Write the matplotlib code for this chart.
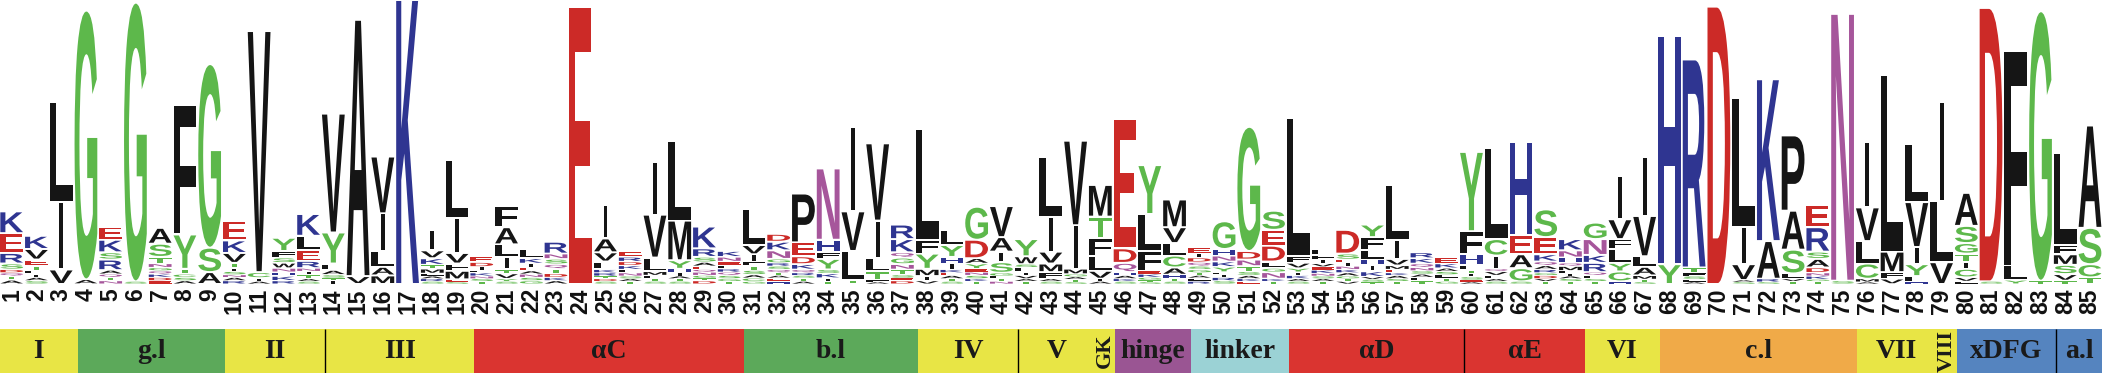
import matplotlib
matplotlib.use('Agg')
import matplotlib.pyplot as plt
from matplotlib.textpath import TextPath
from matplotlib.patches import PathPatch
from matplotlib.font_manager import FontProperties
from matplotlib.transforms import Affine2D

# residues in each column, bottom -> top, and their heights (bits)
letters = [
    "ATQDSREK", "SAILTEVK", "VIL", "AG", "NTQARSKE", "SG", "EDKQGNTSA", "ASCTYF", "ASG", "RANSITVKE",
    "AICV", "RKHNWSFY", "SATINRELK", "ITSAFYV", "VA", "MALIV", "K", "SRALMTKVI", "SEMFVIL", "TSNKLIDE",
    "SYVTILAF", "GSNAEIKL", "AKDTQSNR", "E", "SDTRKLVAI", "TASNLKDRE", "STFMLVI", "STAIHYML", "DTGNQEASRK", "TGSQRLENK",
    "GCASTFIVL", "HEATQSRGNKD", "ATSRQKDEP", "TIKSYFHN", "TLVI", "AFTLIV", "DESTNGQKR", "VIMYFL", "STAEKIHYL", "TKSNEYADG",
    "NTLGSIAV", "TAVILSWY", "SAFMVIL", "STAGMIV", "AIVLFTM", "SKAHQDE", "STGKEFLY", "STHACLVM", "RLATGSQDIE", "SRILYKNHG",
    "EKASTNDG", "TKNGLDES", "SAKIYVFL", "TASNKEVIFL", "VTGAKNIESD", "TSVKIHLFY", "TSAKEMVIL", "TLASNQKR", "GTLSAKE", "AESITLHFY",
    "SAFVQICL", "SGAEH", "TVDGRAQKES", "TSAILMQHNK", "TSLQRKNG", "HCYLFVI", "STMALVI", "YH", "ALSFTR", "D",
    "SAVIL", "SRAK", "TVLSAP", "TGKNDASRE", "SN", "AMCLVI", "VFML", "HFYIVL", "VLI", "LVCITGSA",
    "SD", "YLF", "TG", "TVSMFL", "TCSA",
]
heights = [
    [.06, .06, .05, .05, .09, .16, .30, .33], [.05, .05, .05, .06, .06, .10, .16, .20], [.22, 1.02, 1.52],
    [.07, 4.07], [.05, .05, .05, .06, .16, .11, .19, .20], [.04, 4.22],
    [.05, .05, .05, .05, .05, .06, .10, .20, .24], [.05, .05, .05, .08, .52, 1.96], [.18, .37, 2.78],
    [.05, .05, .04, .05, .05, .08, .15, .19, .30], [.04, .05, .09, 3.65], [.05, .07, .06, .06, .08, .08, .10, .20],
    [.04, .04, .06, .05, .05, .11, .16, .22, .33], [.05, .04, .05, .07, .10, .47, 1.80], [.12, 3.88],
    [.13, .13, .24, .57, .86], [4.30], [.04, .04, .04, .04, .07, .06, .10, .12, .30],
    [.03, .04, .13, .11, .16, .53, .88], [.04, .04, .04, .05, .04, .05, .07, .09], [.04, .04, .08, .06, .19, .19, .26, .32],
    [.05, .05, .05, .05, .05, .06, .08, .14], [.05, .05, .06, .07, .07, .08, .08, .18], [4.20],
    [.04, .04, .04, .05, .05, .12, .14, .21, .50], [.04, .04, .04, .05, .05, .06, .06, .07, .09], [.04, .04, .05, .06, .21, .65, .80],
    [.04, .04, .04, .05, .06, .13, .60, 1.20], [.05, .04, .04, .05, .04, .05, .06, .08, .13, .33], [.04, .04, .05, .05, .05, .05, .06, .07, .09],
    [.04, .05, .05, .07, .06, .07, .11, .14, .55], [.04, .05, .04, .04, .05, .05, .05, .06, .13, .13, .12], [.04, .05, .04, .04, .05, .08, .12, .21, .74],
    [.04, .05, .07, .06, .16, .10, .19, 1.08], [.06, .44, .60, 1.27], [.03, .03, .13, .21, .56, 1.17],
    [.05, .04, .05, .08, .08, .10, .08, .20, .22], [.05, .07, .11, .23, .21, 1.68], [.04, .04, .05, .04, .05, .09, .10, .18, .22],
    [.04, .04, .05, .05, .05, .08, .08, .28, .50], [.04, .04, .04, .05, .16, .16, .22, .47], [.04, .04, .05, .05, .07, .05, .12, .26],
    [.04, .04, .10, .13, .18, .53, .90], [.03, .04, .04, .04, .08, .66, 1.28], [.04, .04, .12, .22, .27, .33, .48],
    [.04, .04, .05, .05, .14, .22, 1.96], [.03, .03, .04, .05, .05, .30, .56, .74], [.04, .04, .06, .11, .18, .19, .24, .42],
    [.04, .05, .04, .04, .05, .05, .06, .07, .06, .10], [.05, .05, .04, .04, .08, .08, .09, .10, .42], [.04, .04, .05, .06, .08, .10, .13, 1.88],
    [.04, .04, .10, .06, .10, .24, .24, .29], [.04, .04, .05, .05, .06, .08, .10, 2.10], [.04, .04, .04, .04, .05, .05, .05, .06, .07, .08],
    [.04, .04, .04, .05, .05, .05, .05, .05, .09, .36], [.03, .04, .04, .08, .10, .08, .14, .20, .19], [.04, .04, .05, .04, .05, .06, .10, .28, .84],
    [.05, .05, .05, .05, .05, .06, .08, .09], [.04, .05, .05, .05, .05, .07, .09], [.03, .03, .05, .05, .05, .08, .16, .35, 1.20],
    [.04, .04, .05, .06, .04, .20, .25, 1.38], [.04, .20, .21, .29, 1.41], [.04, .04, .05, .04, .05, .06, .06, .11, .26, .42],
    [.04, .04, .04, .04, .04, .07, .05, .08, .11, .17], [.04, .04, .05, .05, .14, .12, .24, .25], [.04, .15, .13, .21, .15, .30, .66],
    [.03, .04, .06, .13, .16, .61, .90], [.30, 3.45], [.03, .04, .05, .05, .08, 3.15], [4.20],
    [.03, .03, .24, .56, 1.95], [.03, .05, .57, 2.45], [.04, .04, .08, .36, .59, 1.14],
    [.04, .03, .05, .05, .08, .13, .11, .37, .34], [.05, 4.04], [.03, .05, .23, .34, .51, .99],
    [.08, .10, .31, 2.67], [.04, .08, .18, .26, .68, .88], [.33, .93, 1.50],
    [.04, .06, .13, .10, .13, .16, .26, .50], [.04, 4.14], [.06, .22, 3.25],
    [.05, 4.08], [.05, .10, .14, .16, .14, 1.40], [.10, .20, .55, 1.55],
]
positions = list(range(1, len(letters) + 1))

# structural regions under the logo
seg_names = ['I', 'g.l', 'II', 'III', 'αC', 'b.l', 'IV', 'V', 'GK', 'hinge', 'linker',
             'αD', 'αE', 'VI', 'c.l', 'VII', 'VIII', 'xDFG', 'a.l']
seg_edges = [0.527, 3.67, 9.62, 13.68, 19.69, 30.60, 37.63, 41.67, 44.81, 45.59, 48.67,
             52.63, 59.70, 64.59, 67.62, 75.59, 78.78, 79.63, 83.63, 85.49]
seg_kind = ['y', 'g', 'y', 'y', 'r', 'g', 'y', 'y', 'y', 'p', 'c',
            'r', 'r', 'y', 'o', 'y', 'y', 'b', 'b']
dividers = [13.68, 41.67, 59.70, 83.63]

band_colors = {'y': '#e8e545', 'g': '#5ca95a', 'r': '#da3430', 'p': '#9a5593',
               'c': '#9bd2d5', 'o': '#f0aa48', 'b': '#5584bf'}
chem = {}
for c in 'AVLIPWFM':
    chem[c] = '#151515'
for c in 'GSTYC':
    chem[c] = '#5db84b'
for c in 'KRH':
    chem[c] = '#2f3591'
for c in 'DE':
    chem[c] = '#cc2a27'
for c in 'NQ':
    chem[c] = '#a6569b'

fig = plt.figure(figsize=(21.02, 3.78), dpi=100)
ax = fig.add_axes([0, 94 / 378, 1, 284 / 378])
ax.set_xlim(0.527, 85.485)
ax.set_ylim(0, 4.3)

fp = FontProperties(family='Liberation Sans', weight='bold')
cache = {}
for pos, seq, hs in zip(positions, letters, heights):
    y = 0.0
    for ch, h in zip(seq, hs):
        if ch not in cache:
            p = TextPath((0, 0), ch, size=1, prop=fp)
            cache[ch] = (p, p.get_extents())
        p, bb = cache[ch]
        w = 0.16 if ch == 'I' else 0.92
        pad = min(0.015, 0.15 * h)
        tr = (Affine2D().translate(-bb.x0, -bb.y0)
              .scale(w / bb.width, (h - 2 * pad) / bb.height)
              .translate(pos - w / 2, y + pad))
        ax.add_patch(PathPatch(tr.transform_path(p), facecolor=chem[ch],
                               edgecolor='none'))
        y += h

for s in ax.spines.values():
    s.set_visible(False)
ax.set_yticks([])
ax.set_xticks(positions)
ax.set_xticklabels([str(i) for i in positions], rotation=90, fontsize=16.5,
                   fontweight='bold', family='Liberation Sans', color='#111111')
ax.tick_params(axis='x', length=0, pad=3)

# region band
ax2 = fig.add_axes([0, 5 / 378, 1, 44 / 378])
ax2.set_xlim(0.527, 85.485)
ax2.set_ylim(0, 1)
ax2.axis('off')
for i, name in enumerate(seg_names):
    x0, x1 = seg_edges[i], seg_edges[i + 1]
    ax2.bar(x0, 1, width=x1 - x0, align='edge', color=band_colors[seg_kind[i]],
            linewidth=0)
    rot = 90 if name in ('GK', 'VIII') else 0
    fs = 16 if rot else 20
    ax2.text((x0 + x1) / 2, 0.5, name, ha='center', va='center', rotation=rot,
             fontsize=fs, fontweight='bold', family='Liberation Serif',
             color='#1a1a1a')
ax2.vlines(dividers, 0, 1, color='black', lw=1)

fig.savefig('out.png', dpi=100)
